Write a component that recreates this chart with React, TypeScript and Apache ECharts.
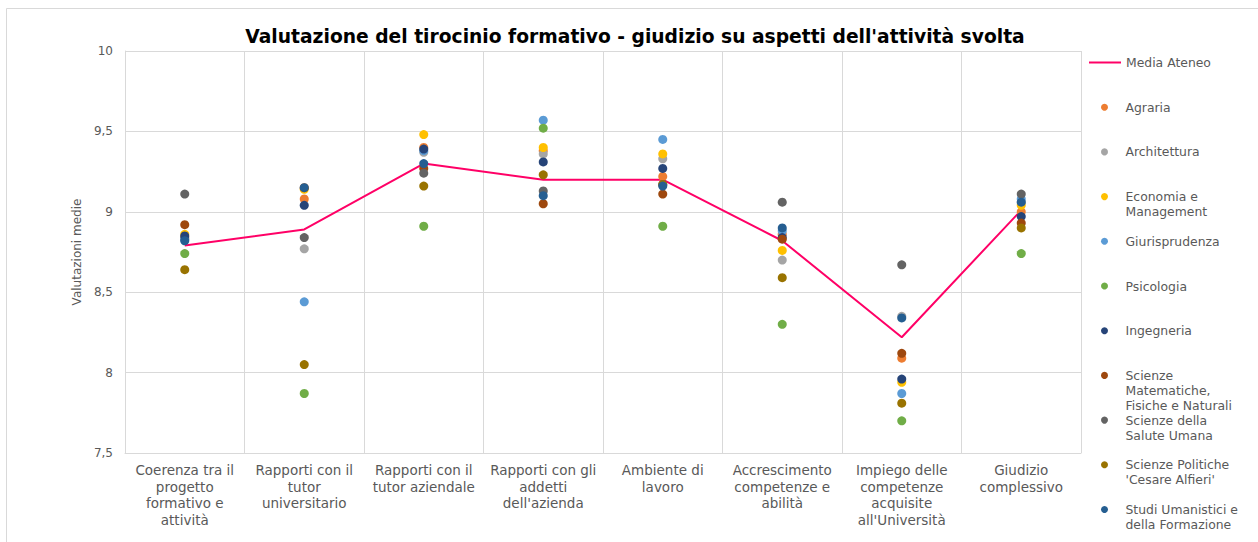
import React, { useEffect, useRef } from "react";
import * as echarts from "echarts";

// ---------- DATA ----------
const categories = [
  "Coerenza tra il\nprogetto\nformativo e\nattività",
  "Rapporti con il\ntutor\nuniversitario",
  "Rapporti con il\ntutor aziendale",
  "Rapporti con gli\naddetti\ndell'azienda",
  "Ambiente di\nlavoro",
  "Accrescimento\ncompetenze e\nabilità",
  "Impiego delle\ncompetenze\nacquisite\nall'Università",
  "Giudizio\ncomplessivo",
];

const yTicks = { min: 7.5, max: 10, interval: 0.5 };

const mediaAteneo = [8.79, 8.89, 9.3, 9.2, 9.2, 8.82, 8.22, 9.01];

const agraria = [8.84, 9.08, 9.4, 9.38, 9.22, 8.86, 8.09, 9.0];
const architettura = [8.83, 8.77, 9.37, 9.36, 9.33, 8.7, 8.35, 9.06];
const economia = [8.86, 9.14, 9.48, 9.4, 9.36, 8.76, 7.94, 9.04];
const giurisprudenza = [8.83, 8.44, 9.38, 9.57, 9.45, 8.88, 7.87, 9.08];
const psicologia = [8.74, 7.87, 8.91, 9.52, 8.91, 8.3, 7.7, 8.74];
const ingegneria = [8.85, 9.04, 9.39, 9.31, 9.27, 8.84, 7.96, 8.97];
const scienzeMFN = [8.92, 9.15, 9.27, 9.05, 9.11, 8.83, 8.12, 8.93];
const salute = [9.11, 8.84, 9.24, 9.13, 9.17, 9.06, 8.67, 9.11];
const politiche = [8.64, 8.05, 9.16, 9.23, 9.17, 8.59, 7.81, 8.9];
const studiUmanistici = [8.82, 9.15, 9.3, 9.1, 9.16, 8.9, 8.34, 9.06];

const facultyNames = [
  "Agraria",
  "Architettura",
  "Economia e Management",
  "Giurisprudenza",
  "Psicologia",
  "Ingegneria",
  "Scienze Matematiche, Fisiche e Naturali",
  "Scienze della Salute Umana",
  "Scienze Politiche 'Cesare Alfieri'",
  "Studi Umanistici e della Formazione",
];
const facultyLegendLabels = [
  "Agraria",
  "Architettura",
  "Economia e\nManagement",
  "Giurisprudenza",
  "Psicologia",
  "Ingegneria",
  "Scienze\nMatematiche,\nFisiche e Naturali",
  "Scienze della\nSalute Umana",
  "Scienze Politiche\n'Cesare Alfieri'",
  "Studi Umanistici e\ndella Formazione",
];
const facultyValues = [
  agraria,
  architettura,
  economia,
  giurisprudenza,
  psicologia,
  ingegneria,
  scienzeMFN,
  salute,
  politiche,
  studiUmanistici,
];

// ---------- STYLE ----------
const facultyColors = [
  "#ED7D31",
  "#A5A5A5",
  "#FFC000",
  "#5B9BD5",
  "#70AD47",
  "#264478",
  "#9E480E",
  "#636363",
  "#997300",
  "#255E91",
];
const mediaColor = "#FF0066";
const FONT = "DejaVu Sans, Verdana, sans-serif";
const TEXT_COLOR = "#595959";
const GRID_COLOR = "#D9D9D9";
const LEGEND_LEFT_LINE = 1089;
const LEGEND_LEFT_DOT = 1101;
const LEGEND_FIRST_Y = 62.5;
const LEGEND_STEP = 44.7;
const LEGEND_LH = 15;

export default function App() {
  const ref = useRef<HTMLDivElement>(null);

  useEffect(() => {
    if (!ref.current) return;
    const chart = echarts.init(ref.current, undefined, { renderer: "svg" });

    const legendNames = ["Media Ateneo", ...facultyNames];
    const legendLabels = ["Media Ateneo", ...facultyLegendLabels];

    const legends = legendNames.map((name, i) => {
      const label = legendLabels[i];
      const n = label.split("\n").length;
      const total = 2 * n - 1;
      const yCenter = LEGEND_FIRST_Y + i * LEGEND_STEP;
      const isLine = i === 0;
      return {
        data: [{ name, icon: isLine ? "rect" : "circle" }],
        left: isLine ? LEGEND_LEFT_LINE : LEGEND_LEFT_DOT,
        top: yCenter - (total * LEGEND_LH) / 2,
        orient: "vertical",
        padding: 0,
        itemWidth: 32,
        itemHeight: isLine ? 2 : 7,
        selectedMode: false,
        formatter: () => "\n".repeat(n - 1) + label,
        textStyle: {
          fontFamily: FONT,
          fontSize: 12.4,
          color: TEXT_COLOR,
          lineHeight: LEGEND_LH,
        },
      };
    });

    const scatterSeries = facultyNames.map((name, i) => ({
      name,
      type: "scatter",
      data: facultyValues[i],
      symbol: "circle",
      symbolSize: 9,
      z: 3,
      itemStyle: { color: facultyColors[i], opacity: 1 },
    }));

    chart.setOption({
      animation: false,
      backgroundColor: "#FFFFFF",
      title: {
        text: "Valutazione del tirocinio formativo - giudizio su aspetti dell'attività svolta",
        left: 630,
        top: 22,
        textAlign: "center",
        textStyle: {
          fontFamily: FONT,
          fontWeight: "bold",
          fontSize: 18.7,
          color: "#000000",
        },
      },
      graphic: [
        {
          type: "rect",
          shape: { x: 6.5, y: 8.5, width: 1300, height: 600 },
          style: { fill: "none", stroke: GRID_COLOR, lineWidth: 1 },
          silent: true,
        },
      ],
      legend: legends,
      grid: { left: 125, right: 177, top: 51, bottom: 89, containLabel: false },
      xAxis: {
        type: "category",
        data: categories,
        boundaryGap: true,
        axisLine: { show: true, lineStyle: { color: GRID_COLOR } },
        axisTick: { show: false },
        splitLine: { show: true, lineStyle: { color: GRID_COLOR, width: 1 } },
        axisLabel: {
          interval: 0,
          margin: 9,
          fontFamily: FONT,
          fontSize: 13.5,
          lineHeight: 16.5,
          color: TEXT_COLOR,
        },
      },
      yAxis: {
        type: "value",
        min: yTicks.min,
        max: yTicks.max,
        interval: yTicks.interval,
        name: "Valutazioni medie",
        nameLocation: "middle",
        nameGap: 34,
        nameTextStyle: { fontFamily: FONT, fontSize: 12, color: TEXT_COLOR },
        axisLine: { show: true, lineStyle: { color: GRID_COLOR } },
        axisTick: { show: false },
        splitLine: { show: true, lineStyle: { color: GRID_COLOR, width: 1 } },
        axisLabel: {
          margin: 12,
          fontFamily: FONT,
          fontSize: 12,
          color: TEXT_COLOR,
          formatter: (v: number) => String(v).replace(".", ","),
        },
      },
      series: [
        {
          name: "Media Ateneo",
          type: "line",
          data: mediaAteneo,
          symbol: "none",
          showSymbol: false,
          z: 2,
          lineStyle: { color: mediaColor, width: 2 },
          itemStyle: { color: mediaColor },
        },
        ...scatterSeries,
      ],
    });

    return () => chart.dispose();
  }, []);

  return (
    <div
      ref={ref}
      style={{ position: "fixed", left: 0, top: 0, width: 1258, height: 542 }}
    />
  );
}
